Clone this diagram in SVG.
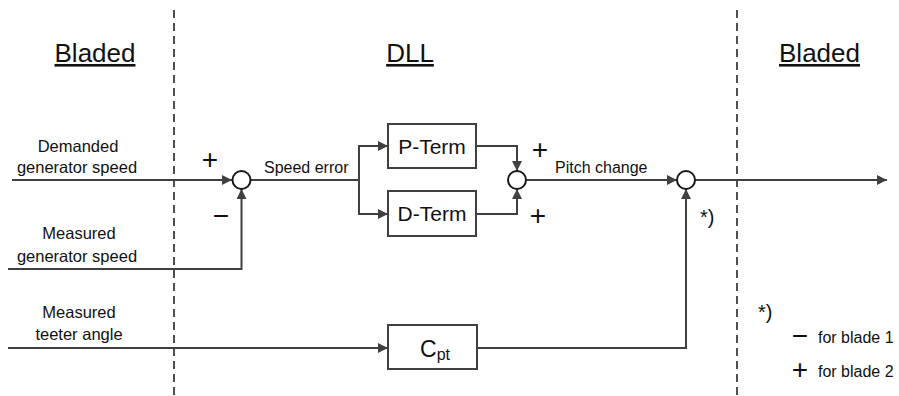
<svg xmlns="http://www.w3.org/2000/svg" width="899" height="396" viewBox="0 0 899 396">
<style>
  text { font-family: "Liberation Sans", Arial, sans-serif; fill: #111; }
  .title { font-size: 26px; text-anchor: middle; text-decoration: underline; }
  .lbl { font-size: 16.5px; text-anchor: middle; }
  .sig { font-size: 16px; }
  .blk { font-size: 21px; text-anchor: middle; }
  .sign { font-size: 28px; text-anchor: middle; }
  .note { font-size: 20px; }
  .wire { fill: none; stroke: #404040; stroke-width: 2; }
  .arr { marker-end: url(#ah); }
  .box { fill: #fff; stroke: #404040; stroke-width: 2; }
  .sum { fill: #fff; stroke: #1a1a1a; stroke-width: 2; }
  .sep { stroke: #505050; stroke-width: 2; stroke-dasharray: 8 5; }
</style>
<defs>
  <marker id="ah" viewBox="0 0 10 10" refX="10" refY="5" markerWidth="10" markerHeight="10" markerUnits="userSpaceOnUse" orient="auto">
    <path d="M0,0 L10,5 L0,10 z" fill="#404040"/>
  </marker>
</defs>
<rect width="899" height="396" fill="#fff"/>

<g id="separators">
  <line class="sep" x1="174" y1="10" x2="174" y2="396"/>
  <line class="sep" x1="737" y1="10" x2="737" y2="396"/>
</g>

<g id="titles">
  <text class="title" x="95" y="62">Bladed</text>
  <text class="title" x="410" y="62" font-size="24">DLL</text>
  <text class="title" x="819.5" y="62">Bladed</text>
</g>

<g id="connectors">
  <path class="wire arr" d="M12,180 H232"/>
  <path class="wire arr" d="M8,269 H241.5 V189"/>
  <path class="wire arr" d="M250.5,180 H359 V146 H388"/>
  <path class="wire arr" d="M359,180 V214 H388"/>
  <path class="wire arr" d="M476,146 H517 V171"/>
  <path class="wire arr" d="M476,214 H517 V189"/>
  <path class="wire arr" d="M526,180 H677"/>
  <path class="wire arr" d="M695,180 H887"/>
  <path class="wire arr" d="M8,348 H388"/>
  <path class="wire arr" d="M477,348 H686 V189"/>
</g>

<g id="input-demanded">
  <text class="lbl" x="78" y="152">Demanded</text>
  <text class="lbl" x="77" y="173">generator speed</text>
</g>
<g id="input-measured-speed">
  <text class="lbl" x="79" y="239">Measured</text>
  <text class="lbl" x="77" y="262">generator speed</text>
</g>
<g id="input-teeter">
  <text class="lbl" x="79" y="318">Measured</text>
  <text class="lbl" x="79" y="340">teeter angle</text>
</g>

<g id="sum1">
  <circle class="sum" cx="241.5" cy="180" r="9"/>
  <text class="sign" x="210" y="169">+</text>
  <text class="sign" x="221" y="224.5">−</text>
</g>
<text class="sig" x="264" y="173">Speed error</text>

<g id="p-term">
  <rect class="box" x="388" y="124" width="88" height="44"/>
  <text class="blk" x="432" y="154">P-Term</text>
</g>
<g id="d-term">
  <rect class="box" x="388" y="191" width="88" height="45"/>
  <text class="blk" x="432" y="221">D-Term</text>
</g>

<g id="sum2">
  <circle class="sum" cx="517" cy="180" r="9"/>
  <text class="sign" x="540" y="159">+</text>
  <text class="sign" x="538" y="225">+</text>
</g>
<text class="sig" x="555" y="173">Pitch change</text>

<g id="sum3">
  <circle class="sum" cx="686" cy="180" r="9"/>
  <text class="note" x="700" y="224">*)</text>
</g>

<g id="cpt">
  <rect class="box" x="388" y="325" width="89" height="44"/>
  <text x="420" y="357" font-size="23">C<tspan font-size="16" dy="3">pt</tspan></text>
</g>

<g id="footnote">
  <text class="note" x="758" y="319">*)</text>
  <text class="sign" x="800" y="345">−</text>
  <text class="sig" x="818" y="343" font-size="16.5">for blade 1</text>
  <text class="sign" x="800" y="379">+</text>
  <text class="sig" x="818" y="377" font-size="16.5">for blade 2</text>
</g>
</svg>
